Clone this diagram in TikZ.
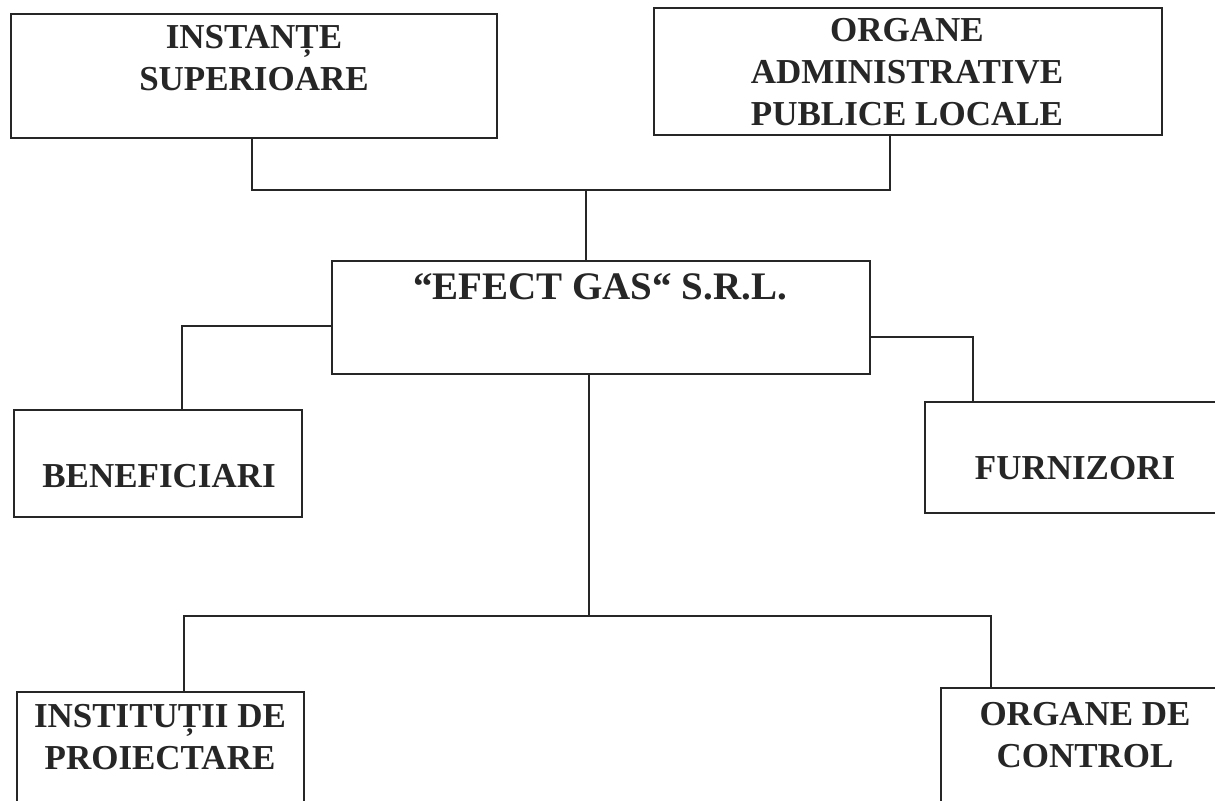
\documentclass[tikz,border=0pt]{standalone}
\usepackage{fontspec}
\setmainfont{Liberation Serif}
\begin{document}
\begin{tikzpicture}[x=0.5pt,y=-0.5pt,
    box/.style={draw=black!85,line width=0.9pt,inner sep=0pt},
    lbl/.style={text=black!85,font=\fontsize{17.5}{21}\selectfont\bfseries,align=center,inner sep=0pt},
    link/.style={draw=black!85,line width=0.9pt}]
\useasboundingbox (0,0) rectangle (1215,800);
% boxes
\node[box,minimum width=243pt,minimum height=62pt] (inst) at (254,76) {};
\node[box,minimum width=254pt,minimum height=63.5pt] (org) at (908,71.5) {};
\node[box,minimum width=269pt,minimum height=56.5pt] (efect) at (601,317.5) {};
\node[box,minimum width=144pt,minimum height=53.5pt] (benef) at (158,463.5) {};
\node[box,minimum width=157.5pt,minimum height=55.5pt] (furn) at (1082.5,457.5) {};
\node[box,minimum width=143.5pt,minimum height=74pt] (proj) at (160.5,766) {};
\node[box,minimum width=149.5pt,minimum height=76pt] (ctrl) at (1090.5,764) {};
% texts
\node[lbl] (instT) at (254,58.5) {INSTANȚE\\SUPERIOARE};
\node[lbl] (orgT) at (907,72.5) {ORGANE\\ADMINISTRATIVE\\PUBLICE LOCALE};
\node[lbl,font=\fontsize{19.5}{23}\selectfont\bfseries] (efectT) at (600,287) {“EFECT GAS“ S.R.L.};
\node[lbl] (benefT) at (159,476) {BENEFICIARI};
\node[lbl] (furnT) at (1075,468) {FURNIZORI};
\node[lbl] (projT) at (160,737.5) {INSTITUȚII DE\\PROIECTARE};
\node[lbl] (ctrlT) at (1085,735) {ORGANE DE\\CONTROL};
% junctions
\coordinate (busA) at (252,190);
\coordinate (busB) at (890,190);
\coordinate (busM) at (586,190);
\coordinate (lstub) at (182,326);
\coordinate (rstub) at (973,337);
\coordinate (busC) at (589,616);
\coordinate (busL) at (184,616);
\coordinate (busR) at (991,616);
% connectors
\draw[link] (inst.south -| busA) -- (busA) -- (busB) -- (org.south -| busB);
\draw[link] (busM) -- (efect.north -| busM);
\draw[link] (lstub -| efect.west) -- (lstub) -- (lstub |- benef.north);
\draw[link] (rstub -| efect.east) -- (rstub) -- (rstub |- furn.north);
\draw[link] (efect.south -| busC) -- (busC);
\draw[link] (proj.north -| busL) -- (busL) -- (busR) -- (ctrl.north -| busR);
\end{tikzpicture}
\end{document}
